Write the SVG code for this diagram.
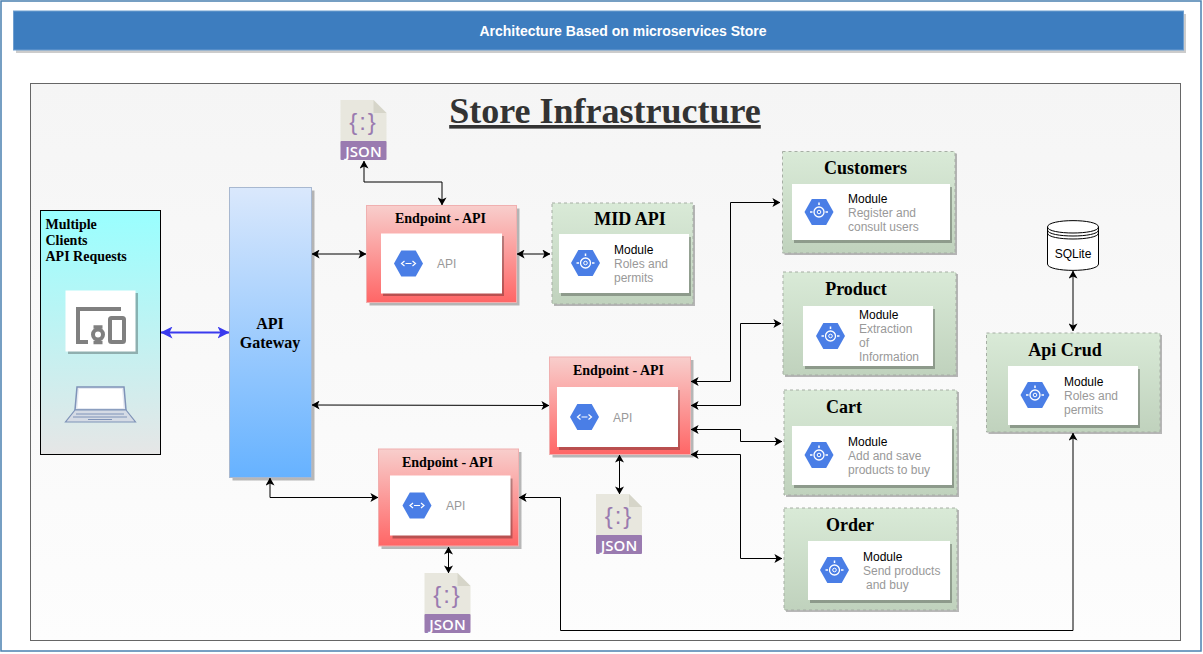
<svg xmlns="http://www.w3.org/2000/svg" width="1203" height="654" viewBox="0 0 1203 654">
<style>
.serif{font-family:"Liberation Serif","Times New Roman",serif;font-weight:bold;fill:#000}
.sans{font-family:"Liberation Sans",Arial,sans-serif;font-size:12px}
.g{fill:#999}.k{fill:#000}
.card{fill:#fff}
.cs{fill:#000;opacity:.27}
.mod{fill:url(#green);stroke:#a6aea4;stroke-width:1;stroke-dasharray:3 3}
.ep{fill:url(#red);stroke:#f0b0b0;stroke-width:1}
.sh{fill:#000;opacity:.27}
.c{fill:none;stroke:#000;stroke-width:1;marker-start:url(#a);marker-end:url(#a)}
</style>
<defs>
<linearGradient id="green" x1="0" y1="0" x2="0" y2="1"><stop offset="0" stop-color="#d9ead7"/><stop offset="1" stop-color="#c0d2bd"/></linearGradient>
<linearGradient id="red" x1="0" y1="0" x2="0" y2="1"><stop offset="0" stop-color="#f8cecc"/><stop offset="1" stop-color="#ff6666"/></linearGradient>
<linearGradient id="blue" x1="0" y1="0" x2="0" y2="1"><stop offset="0" stop-color="#dae8fc"/><stop offset="1" stop-color="#66b2ff"/></linearGradient>
<linearGradient id="cyan" x1="0" y1="0" x2="0" y2="1"><stop offset="0" stop-color="#99ffff"/><stop offset="1" stop-color="#e6e6e6"/></linearGradient>
<linearGradient id="panel" x1="0" y1="0" x2="0" y2="1"><stop offset="0" stop-color="#f5f5f5"/><stop offset="1" stop-color="#fdfdfd"/></linearGradient>
<marker id="a" viewBox="0 0 8 9" refX="7.600" refY="4.500" markerWidth="8" markerHeight="9" markerUnits="userSpaceOnUse" orient="auto-start-reverse"><path d="M0 0L8 4.500L0 9L2 4.500Z" fill="#000"/></marker>
<marker id="b" viewBox="0 0 12 12" refX="11.500" refY="6" markerWidth="12" markerHeight="12" markerUnits="userSpaceOnUse" orient="auto-start-reverse"><path d="M0 0L12 6L0 12L3 6Z" fill="#3a3aee"/></marker>
<g id="hexm"><path d="M-14.500 0L-7.200-13H7.200L14.500 0L7.200 13H-7.200Z" fill="#4a7ee6"/><circle r="5" fill="none" stroke="#fff" stroke-width="1.300"/><circle r="1.800" fill="none" stroke="#fff" stroke-width="1"/><path d="M0-9.500V-7M-9 0H-6.500M6.500 0H9" stroke="#fff" stroke-width="1.500"/></g>
<g id="hexa"><path d="M-14.500 0L-7.200-13H7.200L14.500 0L7.200 13H-7.200Z" fill="#4a7ee6"/><path d="M-4 -2.500L-7 0L-4 2.500M4 -2.500L7 0L4 2.500M-3 0H3" fill="none" stroke="#fff" stroke-width="1.200"/></g>
<g id="json"><path d="M0 0H33L46 13V47H0Z" fill="#e8e7de"/><path d="M33 0L46 13H33Z" fill="#d6d5c9"/><rect y="41" width="46" height="19" rx="1" fill="#9a7bb0"/><text x="23" y="30" text-anchor="middle" letter-spacing="2" style="font-family:'Liberation Sans',Arial,sans-serif;font-size:24px;fill:#9a7bb0">{:}</text><text x="23" y="57" text-anchor="middle" style="font-family:'Open Sans',Arial,sans-serif;font-size:15px;font-weight:600;fill:#fff">JSON</text></g>
</defs>

<rect x="1" y="1" width="1200" height="650" fill="#fff" stroke="#4a80b0" stroke-width="1.500"/>
<g id="header"><rect x="16" y="14" width="1170" height="39" fill="#000" opacity=".2"/><rect x="13.500" y="11" width="1170" height="39" fill="#3d7dbf" stroke="#6f9fd0"/><text x="623" y="36" text-anchor="middle" style="font-family:'Liberation Sans',Arial,sans-serif;font-size:14px;font-weight:bold;fill:#fff">Architecture Based on microservices Store</text></g>
<rect id="panel-bg" x="30.500" y="83.500" width="1150" height="557" fill="url(#panel)" stroke="#666"/>
<text id="title" x="605" y="123" text-anchor="middle" text-decoration="underline" style="font-family:'Liberation Serif','Times New Roman',serif;font-size:36px;font-weight:bold;fill:#333">Store Infrastructure</text>

<g id="connectors">
<path class="c" d="M364 161V182H442V205"/>
<path class="c" d="M312 254H366"/>
<path class="c" d="M517 254H550"/>
<path class="c" d="M161 332.500H229" style="stroke:#3a3aee;stroke-width:2;marker-start:url(#b);marker-end:url(#b)"/>
<path class="c" d="M312 405L549 405.500"/>
<path class="c" d="M270 478V497.500H378"/>
<path class="c" d="M691 381.500H730.500V202.500H780"/>
<path class="c" d="M691 405.500H740.500V323.500H781"/>
<path class="c" d="M691 429.500H740.500V441.500H782"/>
<path class="c" d="M691 454.500H740.500V558.500H782"/>
<path class="c" d="M619.500 455V494"/>
<path class="c" d="M448.500 547V573"/>
<path class="c" d="M519 497.500H560.500V630.500H1073V433"/>
<path class="c" d="M1073 271V331" style="stroke:#555;stroke-width:1.500"/>
</g>

<g id="clients"><rect x="40.500" y="210.500" width="120" height="244" fill="url(#cyan)" stroke="#000"/>
<text class="serif" font-size="14"><tspan x="45.500" y="229">Multiple</tspan><tspan x="45.500" y="245">Clients</tspan><tspan x="45.500" y="261">API Requests</tspan></text>
<rect x="68" y="293" width="70" height="61" fill="#000" opacity=".27"/><rect x="65.500" y="290.500" width="70" height="61" fill="#fff"/>
<path d="M121 309H78V342H88" fill="none" stroke="#808080" stroke-width="4"/>
<rect x="110" y="318" width="14" height="24" rx="1.500" fill="none" stroke="#808080" stroke-width="4"/>
<circle cx="98" cy="334.500" r="5" fill="none" stroke="#808080" stroke-width="4"/><path d="M93.500 327H102.500M93.500 342.500H102.500" stroke="#808080" stroke-width="3.500"/>
<path d="M77 387H124L126 410H75Z" fill="#e6eaf2" stroke="#7f93b8" stroke-width="1.500"/><path d="M79 389H122L123.500 408H77.500Z" fill="#fff"/>
<path d="M75 410H126L135.500 422H65.500Z" fill="#d5dbe5" stroke="#7f93b8" stroke-width="1.200"/>
<path d="M76 414H124M73 417H127M88 419.500H112" stroke="#7f93b8" stroke-width="1"/>
</g>

<g id="gateway"><rect x="232.500" y="190.500" width="82" height="290" class="sh"/><rect x="229.500" y="187.500" width="82" height="290" fill="url(#blue)" stroke="#a8b8d0"/>
<text class="serif" font-size="16" text-anchor="middle"><tspan x="270" y="329">API</tspan><tspan x="270" y="348">Gateway</tspan></text></g>

<g id="endpoint1"><rect x="369.500" y="208.500" width="150" height="97" class="sh"/><rect x="366.500" y="205.500" width="150" height="97" class="ep"/><text class="serif" font-size="14" x="440.500" y="223" text-anchor="middle">Endpoint - API</text>
<rect x="383" y="236" width="121" height="60" class="cs"/><rect x="381" y="233.500" width="121" height="60" class="card"/><use href="#hexa" x="408.500" y="263.500"/><text class="sans g" x="437" y="268">API</text></g>

<g id="endpoint2"><rect x="552.500" y="360" width="141" height="97.500" class="sh"/><rect x="549.500" y="357" width="141" height="97.500" class="ep"/><text class="serif" font-size="14" x="618.500" y="375" text-anchor="middle">Endpoint - API</text>
<rect x="559" y="390" width="121" height="60" class="cs"/><rect x="557" y="387" width="121" height="60" class="card"/><use href="#hexa" x="584.500" y="417"/><text class="sans g" x="613" y="422">API</text></g>

<g id="endpoint3"><rect x="381.500" y="452" width="140" height="97" class="sh"/><rect x="378.500" y="449" width="140" height="97" class="ep"/><text class="serif" font-size="14" x="447.500" y="467" text-anchor="middle">Endpoint - API</text>
<rect x="392.500" y="478.500" width="120" height="60" class="cs"/><rect x="390" y="475.500" width="120.500" height="60" class="card"/><use href="#hexa" x="417" y="505.500"/><text class="sans g" x="446" y="510">API</text></g>

<g id="midapi"><rect x="554" y="205" width="141" height="101" class="sh"/><rect x="552" y="203" width="141" height="101" class="mod"/><text class="serif" font-size="18" x="630" y="225" text-anchor="middle">MID API</text>
<rect x="561" y="237" width="130" height="59" class="cs"/><rect x="559" y="234" width="130" height="59" class="card"/><use href="#hexm" x="585.500" y="263"/><text class="sans"><tspan class="k" x="614" y="254">Module</tspan><tspan class="g" x="614" y="268">Roles and</tspan><tspan class="g" x="614" y="282">permits</tspan></text></g>

<g id="customers"><rect x="784.500" y="153.500" width="172.500" height="101.500" class="sh"/><rect x="782.500" y="151.500" width="172.500" height="101.500" class="mod"/><text class="serif" font-size="18" x="865.500" y="174" text-anchor="middle">Customers</text>
<rect x="794" y="187" width="158" height="56" class="cs"/><rect x="792" y="184" width="158" height="56" class="card"/><use href="#hexm" x="819" y="212"/><text class="sans"><tspan class="k" x="848" y="203">Module</tspan><tspan class="g" x="848" y="217">Register and</tspan><tspan class="g" x="848" y="231">consult users</tspan></text></g>

<g id="product"><rect x="785" y="274" width="173" height="103" class="sh"/><rect x="783" y="272" width="173" height="103" class="mod"/><text class="serif" font-size="18" x="856" y="295" text-anchor="middle">Product</text>
<rect x="805" y="309" width="130" height="60" class="cs"/><rect x="803" y="306" width="130" height="60" class="card"/><use href="#hexm" x="830.500" y="336"/><text class="sans"><tspan class="k" x="859" y="319">Module</tspan><tspan class="g" x="859" y="333">Extraction</tspan><tspan class="g" x="859" y="347">of</tspan><tspan class="g" x="859" y="361">Information</tspan></text></g>

<g id="cart"><rect x="786" y="392" width="173" height="105" class="sh"/><rect x="784" y="390" width="173" height="105" class="mod"/><text class="serif" font-size="18" x="844" y="413" text-anchor="middle">Cart</text>
<rect x="794" y="429" width="160" height="59" class="cs"/><rect x="792" y="426" width="160" height="59" class="card"/><use href="#hexm" x="819" y="455"/><text class="sans"><tspan class="k" x="848" y="446">Module</tspan><tspan class="g" x="848" y="460">Add and save</tspan><tspan class="g" x="848" y="474">products to buy</tspan></text></g>

<g id="order"><rect x="786" y="510" width="173" height="102" class="sh"/><rect x="784" y="508" width="173" height="102" class="mod"/><text class="serif" font-size="18" x="850" y="531" text-anchor="middle">Order</text>
<rect x="810" y="544" width="142" height="59" class="cs"/><rect x="808" y="541" width="142" height="59" class="card"/><use href="#hexm" x="834.500" y="570"/><text class="sans"><tspan class="k" x="863" y="575" dy="-14">Module</tspan><tspan class="g" x="863" y="575">Send products</tspan><tspan class="g" x="866" y="589">and buy</tspan></text></g>

<g id="apicrud"><rect x="988.500" y="335" width="173.500" height="99" class="sh"/><rect x="986.500" y="333" width="173.500" height="99" class="mod"/><text class="serif" font-size="18" x="1065" y="356" text-anchor="middle">Api Crud</text>
<rect x="1010" y="369" width="130" height="59" class="cs"/><rect x="1008" y="366" width="130" height="59" class="card"/><use href="#hexm" x="1035" y="395"/><text class="sans"><tspan class="k" x="1064" y="386">Module</tspan><tspan class="g" x="1064" y="400">Roles and</tspan><tspan class="g" x="1064" y="414">permits</tspan></text></g>

<g id="sqlite"><path d="M1047.500 227C1047.500 218.500 1098.500 218.500 1098.500 227V264C1098.500 272.500 1047.500 272.500 1047.500 264Z" fill="#fff" stroke="#000"/><path d="M1047.500 227C1047.500 235 1098.500 235 1098.500 227M1047.500 230C1047.500 238 1098.500 238 1098.500 230M1047.500 233C1047.500 241 1098.500 241 1098.500 233" fill="none" stroke="#000"/><text class="sans k" x="1073" y="258" text-anchor="middle">SQLite</text></g>

<use id="json1" href="#json" x="340.500" y="100"/>
<use id="json2" href="#json" x="596" y="494"/>
<use id="json3" href="#json" x="424.500" y="573"/>
</svg>
